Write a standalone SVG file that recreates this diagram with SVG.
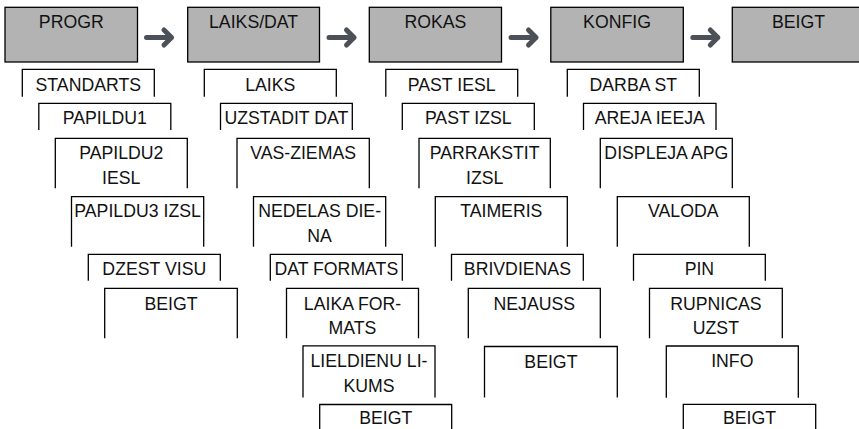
<svg xmlns="http://www.w3.org/2000/svg" xmlns:xlink="http://www.w3.org/1999/xlink" width="859" height="429" viewBox="0 0 859 429">
<style>
.top{fill:#b3b3b3;stroke:#000;stroke-width:1.3}
.sub{fill:none;stroke:#000;stroke-width:1.3}
text{font-family:"Liberation Sans",Arial,sans-serif;font-size:17.7px;fill:#111;text-anchor:middle}
.arr{fill:none;stroke:#4b5156;stroke-width:5;stroke-linecap:round;stroke-linejoin:round}
</style>
<defs>
<path id="arrow" class="arr" d="M9.5 37.5 H34.5 M27 30 L34.5 37.5 L27 45"/>
</defs>
<rect width="859" height="429" fill="#fff"/>
<g id="connectors">
<use xlink:href="#arrow" href="#arrow" x="137"/>
<use xlink:href="#arrow" href="#arrow" x="319.5"/>
<use xlink:href="#arrow" href="#arrow" x="501.5"/>
<use xlink:href="#arrow" href="#arrow" x="683.3"/>
</g>
<g id="top-progr"><rect class="top" x="5" y="7.3" width="132.5" height="54.7"/><text x="71.3" y="28">PROGR</text></g>
<g id="top-laiks"><rect class="top" x="187.7" y="7.3" width="131.8" height="54.7"/><text x="253.6" y="28">LAIKS/DAT</text></g>
<g id="top-rokas"><rect class="top" x="369.3" y="7.3" width="132.2" height="54.7"/><text x="435.4" y="28">ROKAS</text></g>
<g id="top-konfig"><rect class="top" x="550.8" y="7.3" width="132.5" height="54.7"/><text x="617" y="28">KONFIG</text></g>
<g id="top-beigt"><rect class="top" x="732.3" y="7.3" width="132.5" height="54.7"/><text x="798.5" y="28">BEIGT</text></g>

<g id="c0-standarts"><path class="sub" d="M22.3 96.7V69.3H154.3V96.7"/><text x="88.3" y="90.5">STANDARTS</text></g>
<g id="c0-papildu1"><path class="sub" d="M38.8 130V103.3H170.8V130"/><text x="104.8" y="124">PAPILDU1</text></g>
<g id="c0-papildu2"><path class="sub" d="M55.3 188.3V138.3H187.3V188.3"/><text x="121.3" y="159.2">PAPILDU2</text><text x="121.3" y="183.6">IESL</text></g>
<g id="c0-papildu3"><path class="sub" d="M71.5 246.7V196.7H203.7V246.7"/><text x="137.6" y="217.3">PAPILDU3 IZSL</text></g>
<g id="c0-dzest"><path class="sub" d="M88.3 280.7V254.3H220.3V280.7"/><text x="154.3" y="275.2">DZEST VISU</text></g>
<g id="c0-beigt"><path class="sub" d="M104.7 338.3V288.3H237.3V338.3"/><text x="171" y="309.5">BEIGT</text></g>

<g id="c1-laiks"><path class="sub" d="M204.3 96.7V69.3H336.3V96.7"/><text x="270.3" y="90.5">LAIKS</text></g>
<g id="c1-uzstadit"><path class="sub" d="M220.5 130V103.3H352.3V130"/><text x="286.4" y="124">UZSTADIT DAT</text></g>
<g id="c1-vas"><path class="sub" d="M237 188.3V138.3H369.3V188.3"/><text x="303.1" y="159.2">VAS-ZIEMAS</text></g>
<g id="c1-nedelas"><path class="sub" d="M253.5 246.7V196.7H385.7V246.7"/><text x="319.6" y="217.3">NEDELAS DIE-</text><text x="319.6" y="241.7">NA</text></g>
<g id="c1-datformats"><path class="sub" d="M270.3 280.7V254.3H402.3V280.7"/><text x="336.3" y="275.2">DAT FORMATS</text></g>
<g id="c1-laikaformats"><path class="sub" d="M286.5 338.3V288.3H418.5V338.3"/><text x="352.5" y="309.5">LAIKA FOR-</text><text x="352.5" y="334">MATS</text></g>
<g id="c1-lieldienu"><path class="sub" d="M303 397.5V345.8H435V397.5"/><text x="369" y="367.2">LIELDIENU LI-</text><text x="369" y="391.7">KUMS</text></g>
<g id="c1-beigt"><path class="sub" d="M319.7 432V404.5H451.7V432"/><text x="385.7" y="424.3">BEIGT</text></g>

<g id="c2-pastiesl"><path class="sub" d="M385.8 96.7V69.3H517.7V96.7"/><text x="451.7" y="90.5">PAST IESL</text></g>
<g id="c2-pastizsl"><path class="sub" d="M402.3 130V103.3H534.3V130"/><text x="468.3" y="124">PAST IZSL</text></g>
<g id="c2-parrakstit"><path class="sub" d="M419 188.3V138.3H550.3V188.3"/><text x="484.7" y="159.2">PARRAKSTIT</text><text x="484.7" y="183.6">IZSL</text></g>
<g id="c2-taimeris"><path class="sub" d="M435.3 246.7V196.7H567.3V246.7"/><text x="501.3" y="217.3">TAIMERIS</text></g>
<g id="c2-brivdienas"><path class="sub" d="M451.5 280.7V254.3H583.3V280.7"/><text x="517.4" y="275.2">BRIVDIENAS</text></g>
<g id="c2-nejauss"><path class="sub" d="M468.3 338.3V288.3H600.3V338.3"/><text x="534.3" y="309.5">NEJAUSS</text></g>
<g id="c2-beigt"><path class="sub" d="M484.5 397.5V346.5H617.3V397.5"/><text x="550.9" y="367.5">BEIGT</text></g>

<g id="c3-darba"><path class="sub" d="M567.3 96.7V69.3H699.3V96.7"/><text x="633.3" y="90.5">DARBA ST</text></g>
<g id="c3-areja"><path class="sub" d="M583.5 130V103.3H716V130"/><text x="649.8" y="124">AREJA IEEJA</text></g>
<g id="c3-displeja"><path class="sub" d="M600.3 188.3V138.3H732.3V188.3"/><text x="666.3" y="159.2">DISPLEJA APG</text></g>
<g id="c3-valoda"><path class="sub" d="M617.3 246.7V196.7H749.3V246.7"/><text x="683.3" y="217.3">VALODA</text></g>
<g id="c3-pin"><path class="sub" d="M633.5 280.7V254.3H765.3V280.7"/><text x="699.4" y="275.2">PIN</text></g>
<g id="c3-rupnicas"><path class="sub" d="M649.5 338.3V288.3H782.3V338.3"/><text x="715.9" y="309.5">RUPNICAS</text><text x="715.9" y="334">UZST</text></g>
<g id="c3-info"><path class="sub" d="M666.3 397.7V346H798.3V397.7"/><text x="732.3" y="367.2">INFO</text></g>
<g id="c3-beigt"><path class="sub" d="M683.3 432V404.3H815.7V432"/><text x="749.5" y="424.3">BEIGT</text></g>
</svg>
